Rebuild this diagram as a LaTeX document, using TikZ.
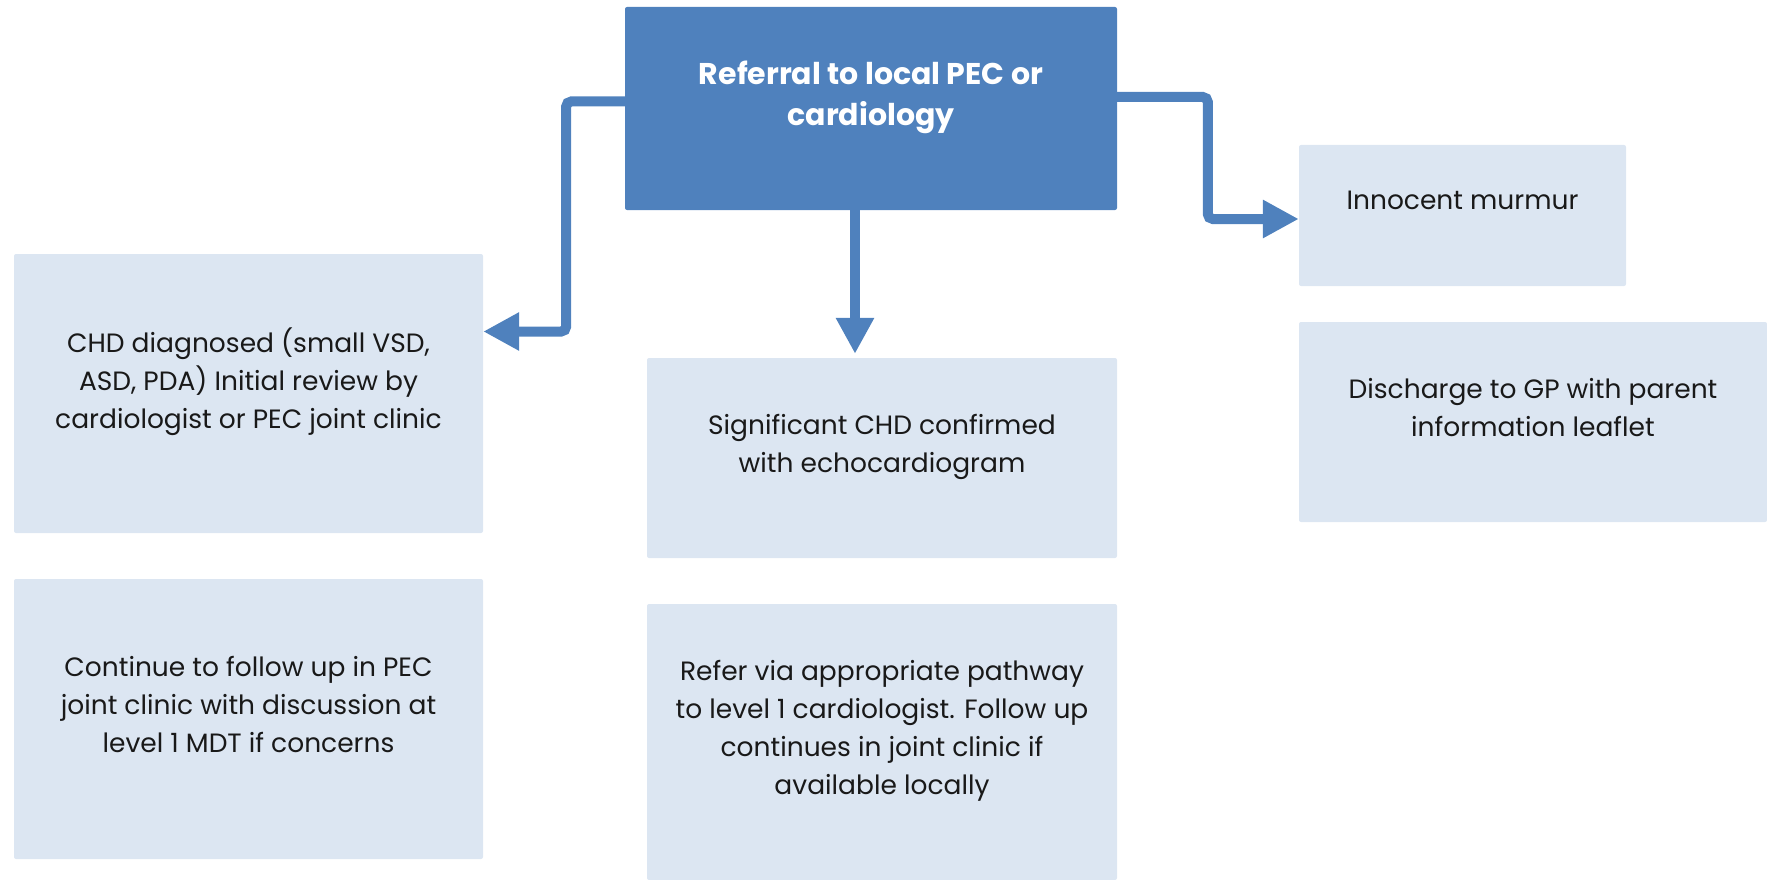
\documentclass[tikz,border=0pt]{standalone}
\usepackage{fontspec}
\setmainfont{Poppins}
\usetikzlibrary{arrows.meta,calc}
\definecolor{pecblue}{HTML}{4F81BD}
\definecolor{paleblue}{HTML}{DCE6F2}
\tikzstyle{head} = [rectangle, rounded corners=2pt, fill=pecblue, text=white, align=center, text depth=31pt, font=\bfseries\fontsize{30}{41}\selectfont]
\tikzstyle{rec} = [rectangle, rounded corners=2pt, fill=paleblue, text=black!90, align=center, text depth=30pt, font=\fontsize{26.5}{38}\selectfont]
\tikzstyle{arrow} = [draw=pecblue, line width=10pt, rounded corners=5pt, -{Triangle[width=36pt,length=36pt]}, pecblue]

\begin{document}
\begin{tikzpicture}[x=1pt,y=-1pt]
		\useasboundingbox (0,0) rectangle (1767,880);
		\node (referral) [head, minimum width=492pt, minimum height=203pt] at (871,108.5) {Referral to local PEC or\\cardiology};
		\node (innocent) [rec, minimum width=327pt, minimum height=141pt] at (1462.5,215.5) {Innocent murmur};
		\node (discharge) [rec, minimum width=468pt, minimum height=200pt] at (1533,422) {Discharge to GP with parent\\information leaflet};
		\node (chd) [rec, minimum width=469pt, minimum height=279pt] at (248.5,393.5) {CHD diagnosed (small VSD,\\ASD, PDA) Initial review by\\cardiologist or PEC joint clinic};
		\node (followup) [rec, minimum width=469pt, minimum height=280pt] at (248.5,719) {Continue to follow up in PEC\\joint clinic with discussion at\\level 1 MDT if concerns};
		\node (significant) [rec, minimum width=470pt, minimum height=200pt] at (882,458) {Significant CHD confirmed\\with echocardiogram};
		\node (refer) [rec, minimum width=470pt, minimum height=276pt] at (882,742) {Refer via appropriate pathway\\to level 1 cardiologist. Follow up\\continues in joint clinic if\\available locally};
		\draw [arrow] ($(referral.west)+(23,-7)$) -| ($(chd.east)+(83,-62)$) -- ($(chd.east)+(0,-62)$);
		\draw [arrow] ($(referral.south)+(-16,-10)$) -- ($(significant.north)+(-27,-4)$);
		\draw [arrow] ($(referral.east)+(0,-11.5)$) -| ($(innocent.west)+(-91,3.5)$) -- ($(innocent.west)+(0,3.5)$);
	\end{tikzpicture}
\end{document}
